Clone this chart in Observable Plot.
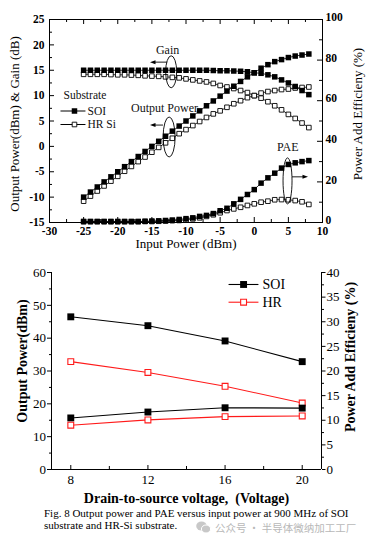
<!DOCTYPE html>
<html>
<head>
<meta charset="utf-8">
<script src="https://cdn.jsdelivr.net/npm/d3@7"></script>
<script src="https://cdn.jsdelivr.net/npm/@observablehq/plot@0.6"></script>
<style>
html,body{margin:0;padding:0;background:#fff;}
body{width:372px;height:541px;position:relative;overflow:hidden;font-family:"Liberation Serif","Times New Roman",serif;color:#000;}
#top{position:absolute;left:0;top:0;}
#bottom{position:absolute;left:0;top:255px;}
#caption{position:absolute;left:44px;top:507px;font-size:11px;line-height:12px;white-space:nowrap;}
#wm{position:absolute;left:196px;top:520.5px;font-family:"Noto Sans CJK SC",sans-serif;font-size:10.5px;line-height:11px;color:#b8b8b8;white-space:nowrap;display:flex;align-items:center;gap:4px;}
</style>
</head>
<body>
<div id="top"></div>
<div id="bottom"></div>
<div id="caption">Fig. 8 Output power and PAE versus input power at 900 MHz of SOI<br>substrate and HR-Si substrate.</div>
<div id="wm"><svg width="15" height="13" viewBox="0 0 15 13"><ellipse cx="5.5" cy="5" rx="5.3" ry="4.6" fill="#c8c8c8"/><ellipse cx="10" cy="8" rx="4.6" ry="4" fill="#c8c8c8" stroke="#fff" stroke-width="1"/></svg><span>公众号 · 半导体微纳加工工厂</span></div>
<script>
// ---------------- top chart data ----------------
const inputPower = [-25,-24,-23,-22,-21,-20,-19,-18,-17,-16,-15,-14,-13,-12,-11,-10,-9,-8,-7,-6,-5,-4,-3,-2,-1,0,1,2,3,4,5,6,7,8];
const soiGain = [15.0,15.0,15.0,15.0,15.0,15.0,15.0,15.0,15.0,15.0,15.0,15.0,15.0,15.0,15.0,15.0,15.0,15.0,15.0,14.95,14.9,14.9,14.85,14.8,14.7,14.5,14.4,14.1,13.7,13.1,12.5,11.8,11.0,10.2];
const hrGain = [14.2,14.2,14.2,14.2,14.15,14.1,14.1,14.05,14.0,13.9,13.85,13.8,13.7,13.6,13.5,13.3,13.1,12.9,12.7,12.4,12.0,11.7,11.4,11.0,10.6,10.0,9.5,8.8,8.0,7.2,6.3,5.5,4.6,3.7];
const soiPout = [-10.0,-9.0,-8.0,-7.0,-6.0,-5.0,-4.0,-3.0,-2.0,-1.0,0.0,1.0,2.0,3.0,4.0,5.0,6.0,7.0,8.0,8.95,9.9,10.9,11.85,12.8,13.7,14.5,15.4,16.1,16.7,17.1,17.5,17.8,18.0,18.2];
const hrPout = [-10.8,-9.8,-8.8,-7.8,-6.85,-5.9,-4.9,-3.95,-3.0,-2.1,-1.15,-0.2,0.7,1.6,2.5,3.3,4.1,4.9,5.7,6.4,7.0,7.7,8.4,9.0,9.6,10.0,10.5,10.8,11.0,11.2,11.3,11.5,11.6,11.7];
const soiPAE = [0.5,0.5,0.5,0.5,0.5,0.5,0.5,0.5,0.5,0.6,0.7,0.8,1.0,1.2,1.5,1.9,2.3,3.0,3.5,4.4,5.8,7.0,9.2,11.4,13.8,16.2,19.4,22.0,24.3,26.8,28.6,29.4,30.0,30.5];
const hrPAE = [0.4,0.4,0.4,0.4,0.4,0.4,0.4,0.4,0.4,0.5,0.5,0.6,0.7,0.9,1.0,1.3,1.8,2.3,3.0,3.8,4.8,5.9,6.7,7.5,8.4,9.2,10.0,10.5,11.2,11.3,11.2,10.8,10.2,8.9];

const topXTicks = [-30,-25,-20,-15,-10,-5,0,5,10];
const topXMinor = [-27.5,-22.5,-17.5,-12.5,-7.5,-2.5,2.5,7.5];
const topYTicks = [-15,-10,-5,0,5,10,15,20,25];
const topYMinor = [-12.5,-7.5,-2.5,2.5,7.5,12.5,17.5,22.5];
const topPAETicks = [0,20,40,60,80,100];
const topPAEMinor = [10,30,50,70,90];
const topLegend = ["SOI","HR Si"];

// ---------------- bottom chart data ----------------
const voltage = [8,12,16,20];
const soiPower = [15.7,17.5,18.8,18.7];
const hrPower = [13.5,15.1,16.1,16.3];
const soiEff = [31.0,29.2,26.1,21.9];
const hrEff = [21.9,19.7,16.9,13.5];
const vTicks = [8,12,16,20];
const vMinor = [10,14,18];
const powTicks = [0,10,20,30,40,50,60];
const powMinor = [5,15,25,35,45,55];
const effTicks = [0,5,10,15,20,25,30,35,40];
const effMinor = [2.5,7.5,12.5,17.5,22.5,27.5,32.5,37.5];
const botLegend = ["SOI","HR"];

// ---------------- layout ----------------
const serif = '"Liberation Serif","Times New Roman",serif';
const TOP = {w:372, h:255, ml:49, mr:50, mt:19, mb:33, xd:[-30,10], yd:[-15,25]};
const tpw = TOP.w - TOP.ml - TOP.mr, tph = TOP.h - TOP.mt - TOP.mb;
const toLeft = p => -15 + p * 0.4;           // PAE (0..100) onto left axis (-15..25)

const topNotes = [
  {label:"Gain", x:-12.7, y:18.9},
  {label:"Output Power", x:-13.15, y:7.6},
  {label:"PAE", x:4.9, y:-0.1}
];
const topEllipses = [
  {x:-12.1, y:14.6, rx:5.5, ry:16},
  {x:-12.4, y:1.75, rx:6, ry:20},
  {x:4.95, y:-6.9, rx:4.5, ry:23}
];
const topArrows = [
  {x1:-12.7, x2:-15.2, y:16.5},
  {x1:-13.3, x2:-15.2, y:4.1},
  {x1:5.6, x2:7.95, y:-6.1}
];
const topLegendPos = {titleX:-27.95, titleY:10.0, x1:-28.39, x2:-24.73, xm:-26.34, xt:-24.43, ys:[6.97, 4.31]};

function annot(ells, arrows) {
  return (index, scales) => {
    const g = d3.create("svg:g");
    for (const e of ells) {
      g.append("ellipse").attr("cx", scales.x(e.x)).attr("cy", scales.y(e.y))
        .attr("rx", e.rx).attr("ry", e.ry).attr("fill", "none").attr("stroke", "#000").attr("stroke-width", 0.9);
    }
    for (const a of arrows) {
      const x1 = scales.x(a.x1), x2 = scales.x(a.x2), y = scales.y(a.y);
      const dir = Math.sign(x2 - x1);
      g.append("line").attr("x1", x1).attr("x2", x2 - dir * 4).attr("y1", y).attr("y2", y)
        .attr("stroke", "#000").attr("stroke-width", 0.9);
      g.append("path").attr("d", `M${x2},${y}L${x2 - dir * 5.5},${y - 2}L${x2 - dir * 5.5},${y + 2}Z`).attr("fill", "#000");
    }
    return g.node();
  };
}

const rows = (ys, map = d => d) => inputPower.map((x, i) => ({x, y: map(ys[i])}));
const filledSq = {x:"x", y:"y", symbol:"square", r:3.1, fill:"#000", stroke:"none"};
const openSq = {x:"x", y:"y", symbol:"square", r:2.6, fill:"#fff", stroke:"#000", strokeWidth:0.9};
const thin = {x:"x", y:"y", stroke:"#000", strokeWidth:0.8};
const centered = {textAnchor: "middle", lineAnchor: "middle"};

const topPlot = Plot.plot({
  width: TOP.w, height: TOP.h,
  marginLeft: TOP.ml, marginRight: TOP.mr, marginTop: TOP.mt, marginBottom: TOP.mb,
  x: {domain: TOP.xd, label: null},
  y: {domain: TOP.yd, label: null},
  style: {fontFamily: serif, fontSize: "11.5px", color: "#000", background: "#fff", overflow: "visible"},
  marks: [
    Plot.line(rows(soiGain), thin),
    Plot.line(rows(hrGain), thin),
    Plot.line(rows(soiPout), thin),
    Plot.line(rows(hrPout), thin),
    Plot.line(rows(soiPAE, toLeft), thin),
    Plot.line(rows(hrPAE, toLeft), thin),
    Plot.dot(rows(hrGain), openSq),
    Plot.dot(rows(hrPout), openSq),
    Plot.dot(rows(hrPAE, toLeft), openSq),
    Plot.dot(rows(soiGain), filledSq),
    Plot.dot(rows(soiPout), filledSq),
    Plot.dot(rows(soiPAE, toLeft), filledSq),
    Plot.frame({stroke: "#000", strokeWidth: 1}),
    Plot.tickY(topYTicks, {y: d => d, insetRight: tpw - 5, stroke: "#000"}),
    Plot.tickY(topYMinor, {y: d => d, insetRight: tpw - 3, stroke: "#000"}),
    Plot.tickY(topPAETicks, {y: d => toLeft(d), insetLeft: tpw - 5, stroke: "#000"}),
    Plot.tickY(topPAEMinor, {y: d => toLeft(d), insetLeft: tpw - 3, stroke: "#000"}),
    Plot.tickX(topXTicks, {x: d => d, insetTop: tph - 5, stroke: "#000"}),
    Plot.tickX(topXMinor, {x: d => d, insetTop: tph - 3, stroke: "#000"}),
    Plot.tickX(topXTicks, {x: d => d, insetBottom: tph - 5, stroke: "#000"}),
    Plot.tickX(topXMinor, {x: d => d, insetBottom: tph - 3, stroke: "#000"}),
    Plot.axisX(topXTicks, {tickSize: 0, tickPadding: 4, tickFormat: d => String(d), fontWeight: "bold", label: null}),
    Plot.axisY(topYTicks, {tickSize: 0, tickPadding: 5, tickFormat: d => String(d), fontWeight: "bold", label: null}),
    Plot.axisY(topPAETicks.map(toLeft), {anchor: "right", tickSize: 0, tickPadding: 3, dy: -2, tickFormat: v => String(Math.round((v + 15) / 0.4)), fontWeight: "bold", label: null}),
    Plot.text(["Input Power (dBm)"], {...centered, text: d => d, frameAnchor: "bottom", dy: 21, fontSize: 13, fill: "#000"}),
    Plot.text(["Output Power(dBm) & Gain (dB)"], {...centered, text: d => d, frameAnchor: "left", rotate: -90, dx: -35, dy: 3, fontSize: 13, fill: "#000"}),
    Plot.text(["Power Add Efficieny (%)"], {...centered, text: d => d, frameAnchor: "right", rotate: -90, dx: 35, dy: -7, fontSize: 13, fill: "#000"}),
    Plot.text(topNotes, {x: "x", y: "y", text: "label", fontSize: 12, fill: "#111"}),
    annot(topEllipses, topArrows),
    Plot.text(["Substrate"], {text: d => d, x: () => topLegendPos.titleX, y: () => topLegendPos.titleY, textAnchor: "start", fontSize: 11.5, fill: "#111"}),
    Plot.link(topLegend, {x1: () => topLegendPos.x1, x2: () => topLegendPos.x2, y1: (d, i) => topLegendPos.ys[i], y2: (d, i) => topLegendPos.ys[i], stroke: "#000", strokeWidth: 1}),
    Plot.dot([topLegend[0]], {x: () => topLegendPos.xm, y: () => topLegendPos.ys[0], symbol: "square", r: 3.1, fill: "#000"}),
    Plot.dot([topLegend[1]], {x: () => topLegendPos.xm, y: () => topLegendPos.ys[1], symbol: "square", r: 2.6, fill: "#fff", stroke: "#000", strokeWidth: 0.9}),
    Plot.text(topLegend, {text: d => d, x: () => topLegendPos.xt, y: (d, i) => topLegendPos.ys[i], textAnchor: "start", fontSize: 11.5, fill: "#111"})
  ]
});
document.getElementById("top").appendChild(topPlot);

// ---------------- bottom chart ----------------
const BOT = {w:372, h:250, ml:51, mr:51, mt:17, mb:36, xd:[7,21], yd:[0,60]};
const bph = BOT.h - BOT.mt - BOT.mb;
const effToLeft = e => e * 1.5;               // PAE (0..40) onto left axis (0..60)
const botLegendPos = {x1:16.18, x2:17.73, xm:16.96, xt:17.94, ys:[56.35, 50.95]};
const vrows = (ys, map = d => d) => voltage.map((x, i) => ({x, y: map(ys[i])}));
const redC = "#ff1a1a";
const bFilled = {x:"x", y:"y", symbol:"square", r:3.9, fill:"#000", stroke:"none"};
const bOpen = {x:"x", y:"y", symbol:"square", r:3.3, fill:"#fff", stroke:redC, strokeWidth:1.1};

const botPlot = Plot.plot({
  width: BOT.w, height: BOT.h,
  marginLeft: BOT.ml, marginRight: BOT.mr, marginTop: BOT.mt, marginBottom: BOT.mb,
  x: {domain: BOT.xd, label: null},
  y: {domain: BOT.yd, label: null},
  style: {fontFamily: serif, fontSize: "13px", color: "#000", background: "#fff", overflow: "visible"},
  marks: [
    Plot.line(vrows(soiEff, effToLeft), {x:"x", y:"y", stroke:"#000", strokeWidth:1.1}),
    Plot.line(vrows(hrEff, effToLeft), {x:"x", y:"y", stroke:redC, strokeWidth:1.1}),
    Plot.line(vrows(soiPower), {x:"x", y:"y", stroke:"#000", strokeWidth:1.1}),
    Plot.line(vrows(hrPower), {x:"x", y:"y", stroke:redC, strokeWidth:1.1}),
    Plot.dot(vrows(soiEff, effToLeft), bFilled),
    Plot.dot(vrows(hrEff, effToLeft), bOpen),
    Plot.dot(vrows(soiPower), bFilled),
    Plot.dot(vrows(hrPower), bOpen),
    Plot.ruleX(BOT.xd, {stroke: "#000", strokeWidth: 1}),
    Plot.ruleY([BOT.yd[0]], {stroke: "#000", strokeWidth: 1}),
    Plot.axisY(powTicks, {tickSize: 4, tickPadding: 1.5, tickFormat: d => String(d), label: null}),
    Plot.axisY(powMinor, {tickSize: 2, tickFormat: () => "", label: null}),
    Plot.axisY(effTicks.map(effToLeft), {anchor: "right", tickSize: 3.5, tickPadding: 1.5, tickFormat: v => String(Math.round(v / 1.5)), label: null}),
    Plot.axisY(effMinor.map(effToLeft), {anchor: "right", tickSize: 2, tickFormat: () => "", label: null}),
    Plot.tickX(vTicks, {x: d => d, insetTop: bph - 4, stroke: "#000"}),
    Plot.tickX(vMinor, {x: d => d, insetTop: bph - 3, stroke: "#000"}),
    Plot.axisX(vTicks, {tickSize: 0, tickPadding: 5, tickFormat: d => String(d), label: null}),
    Plot.text(["Drain-to-source voltage,  (Voltage)"], {...centered, text: d => d, frameAnchor: "bottom", dy: 29, fontSize: 14, fontWeight: "bold", fill: "#000"}),
    Plot.text(["Output Power(dBm)"], {...centered, text: d => d, frameAnchor: "left", rotate: -90, dx: -29, dy: -10, fontSize: 14, fontWeight: "bold", fill: "#000"}),
    Plot.text(["Power Add Efficieny (%)"], {...centered, text: d => d, frameAnchor: "right", rotate: -90, dx: 29, dy: -14, fontSize: 14, fontWeight: "bold", fill: "#000"}),
    Plot.link(botLegend, {x1: () => botLegendPos.x1, x2: () => botLegendPos.x2, y1: (d, i) => botLegendPos.ys[i], y2: (d, i) => botLegendPos.ys[i], stroke: (d, i) => i ? redC : "#000", strokeWidth: 1.1}),
    Plot.dot([botLegend[0]], {x: () => botLegendPos.xm, y: () => botLegendPos.ys[0], symbol: "square", r: 3.9, fill: "#000"}),
    Plot.dot([botLegend[1]], {x: () => botLegendPos.xm, y: () => botLegendPos.ys[1], symbol: "square", r: 3.3, fill: "#fff", stroke: redC, strokeWidth: 1.1}),
    Plot.text(botLegend, {text: d => d, x: () => botLegendPos.xt, y: (d, i) => botLegendPos.ys[i], textAnchor: "start", fontSize: 14, fill: "#000"})
  ]
});
document.getElementById("bottom").appendChild(botPlot);
</script>
</body>
</html>
